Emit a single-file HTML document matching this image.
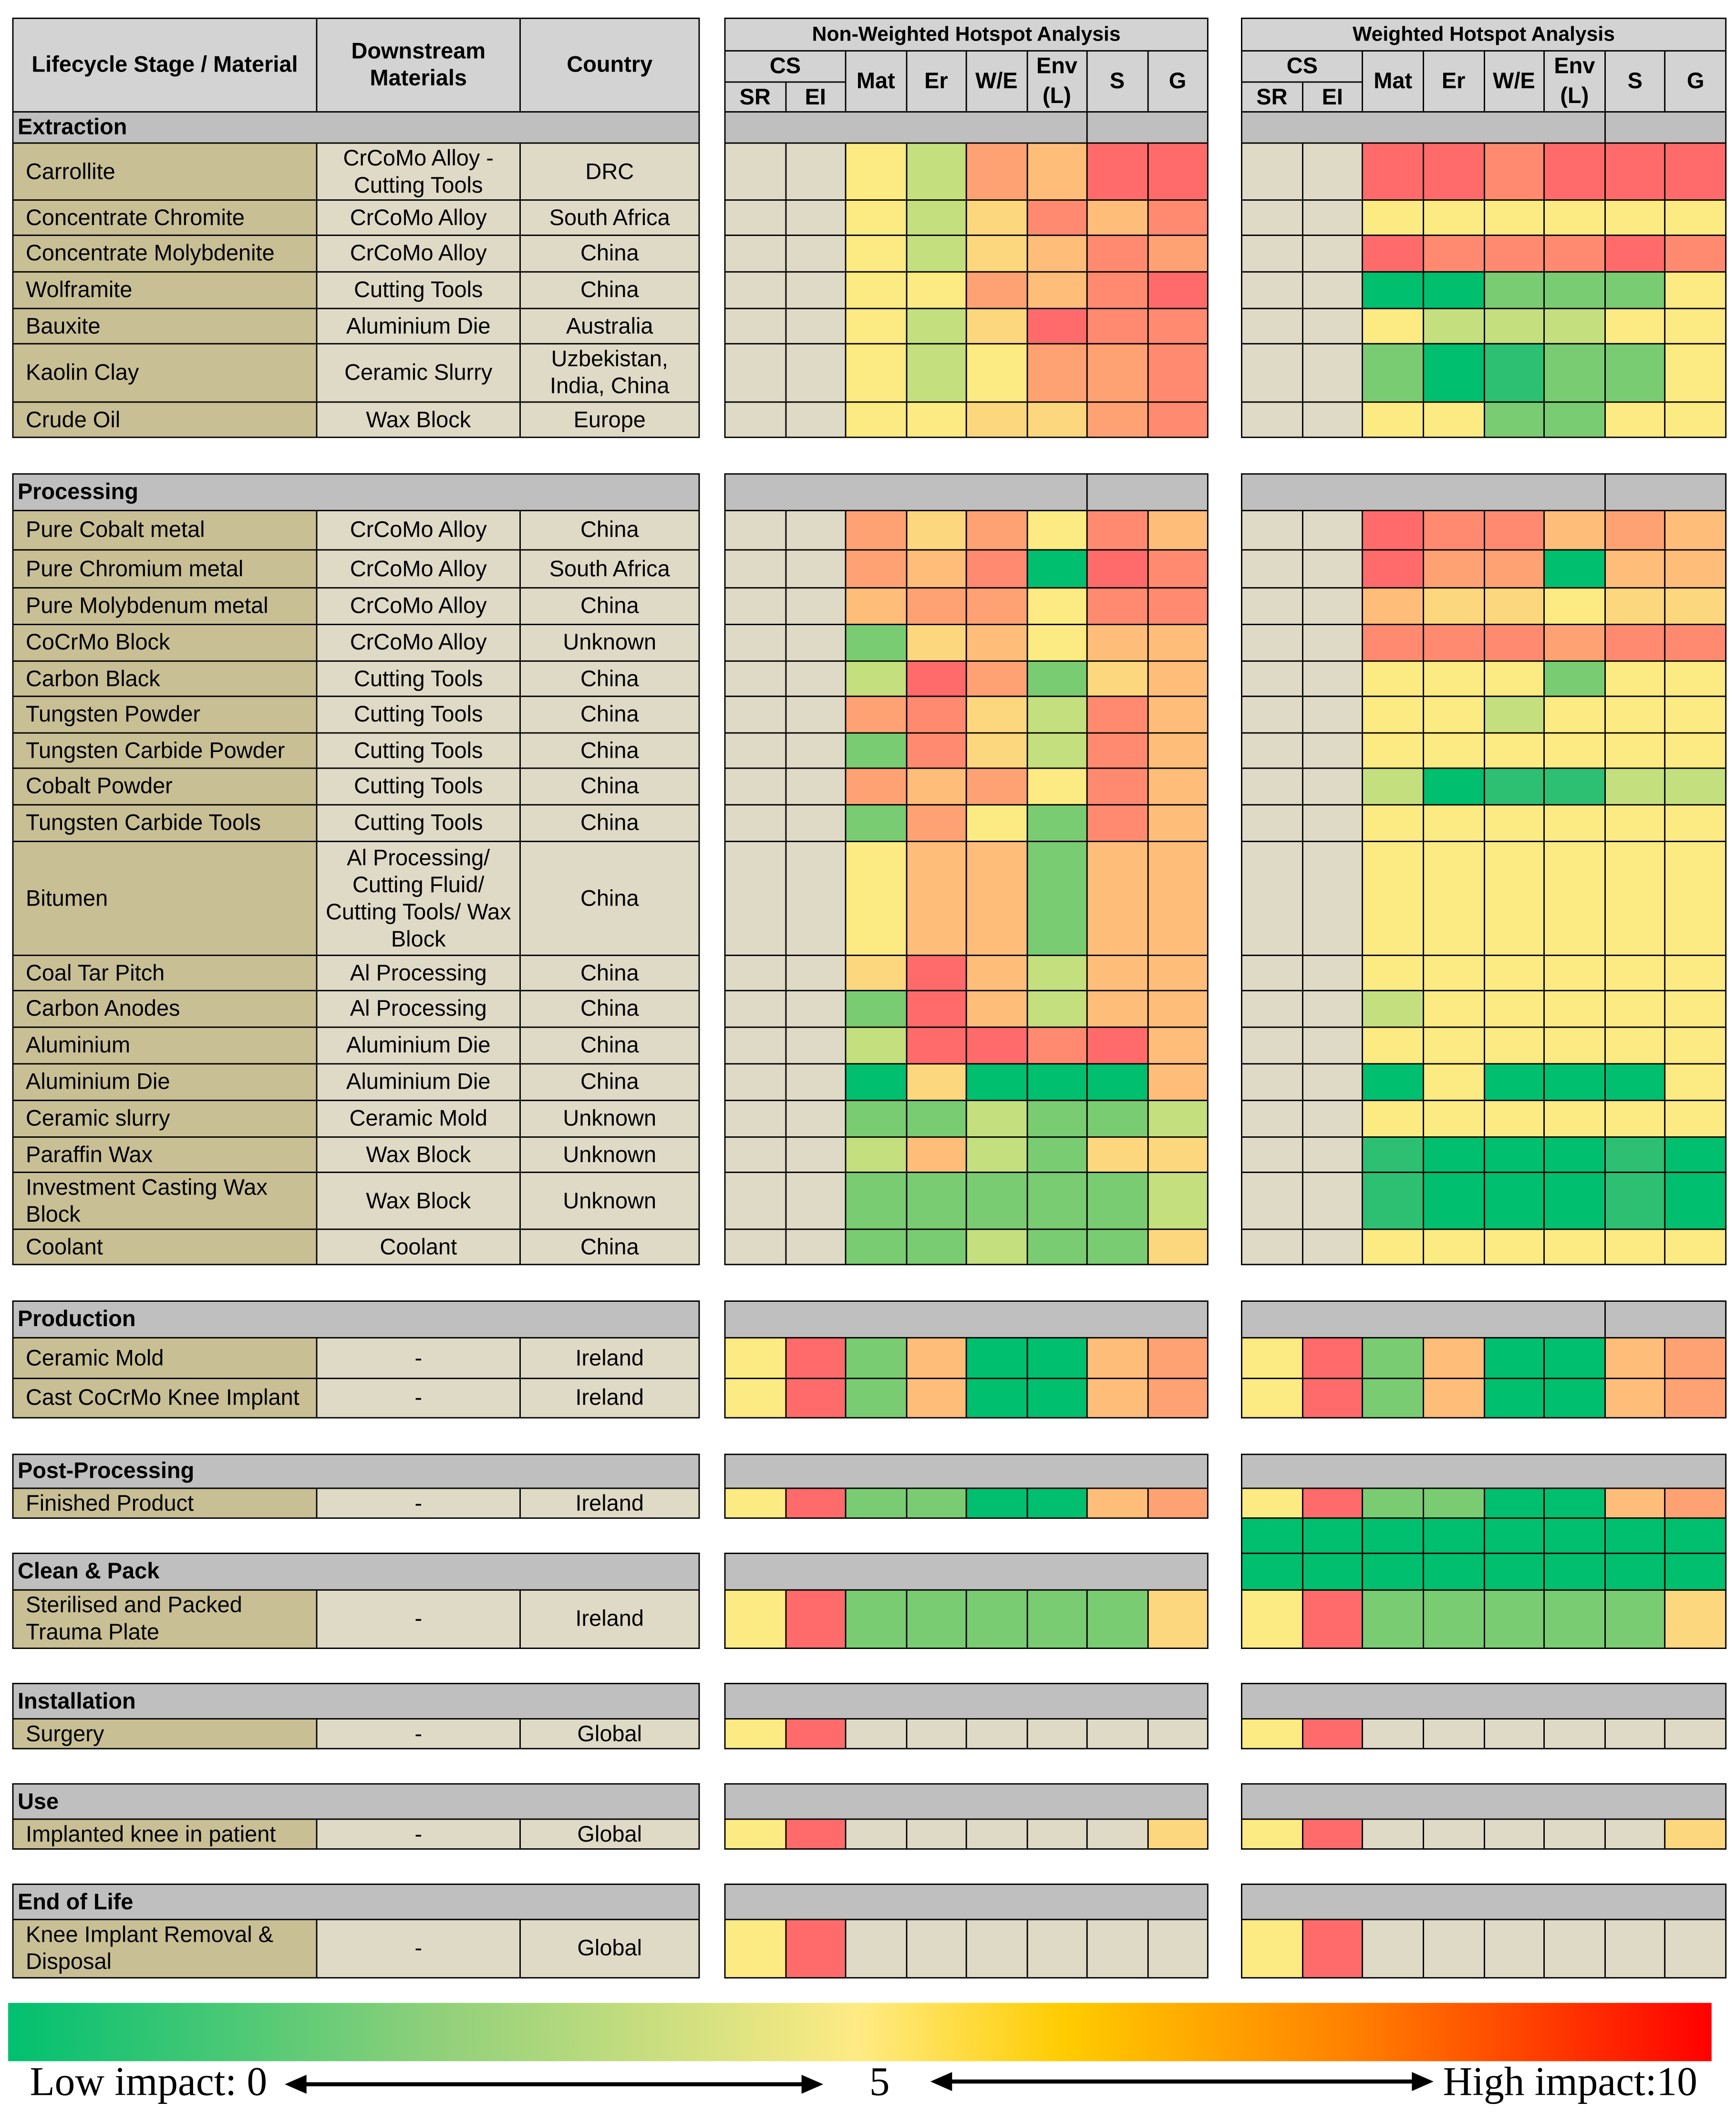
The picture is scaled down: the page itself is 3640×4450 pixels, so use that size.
<!DOCTYPE html>
<html><head><meta charset="utf-8">
<style>
html,body{margin:0;padding:0;background:#fff;}
#root{position:relative;width:1280px;height:1565px;transform:scale(2.84375);transform-origin:0 0;font-family:"Liberation Sans",Arial,sans-serif;}
.c{position:absolute;box-sizing:border-box;border:1px solid #000;display:flex;align-items:center;justify-content:center;text-align:center;font-size:16.5px;line-height:20px;color:#000;overflow:hidden;}
.l{justify-content:flex-start;text-align:left;padding-left:9px;}
.h{font-weight:bold;}
.t{position:absolute;white-space:nowrap;}
</style></head><body>
<div id="root">
<div style="position:absolute;left:6px;top:1477px;width:1256px;height:43px;background:linear-gradient(to right,#00C070 0%,#8FD07A 25%,#FFEB84 50%,#FFCC00 62%,#FF8000 79%,#FF0000 100%);"></div>
<div class="t" style="left:22px;top:1519px;font-family:'Liberation Serif',serif;font-size:30px;">Low impact: 0</div>
<div class="t" style="left:641px;top:1519px;font-family:'Liberation Serif',serif;font-size:30px;">5</div>
<div class="t" style="left:1064px;top:1519px;font-family:'Liberation Serif',serif;font-size:30px;">High impact:10</div>
<svg style="position:absolute;left:0;top:1525px" width="1280" height="30">
<line x1="222" y1="12" x2="595" y2="12" stroke="#000" stroke-width="3"/>
<polygon points="210,12 226,5 226,19" fill="#000"/><polygon points="607,12 591,5 591,19" fill="#000"/>
<line x1="698" y1="10" x2="1045" y2="10" stroke="#000" stroke-width="3"/>
<polygon points="686,10 702,3 702,17" fill="#000"/><polygon points="1057,10 1041,3 1041,17" fill="#000"/>
</svg>
</div>
<script>
const PAL={B:'#DFDAC6',D:'#00BF6F',M:'#2DC072',L:'#7ACC72',l:'#C4DF7E',Y:'#FCEA82',y:'#FDD77E',o:'#FFBD7A',O:'#FFA273',r:'#FF8A6F',R:'#FF6B6B'};
const rowLabels=["Carrollite","Concentrate Chromite","Concentrate Molybdenite","Wolframite","Bauxite","Kaolin Clay","Crude Oil",
"Pure Cobalt metal","Pure Chromium metal","Pure Molybdenum metal","CoCrMo Block","Carbon Black","Tungsten Powder","Tungsten Carbide Powder","Cobalt Powder","Tungsten Carbide Tools","Bitumen","Coal Tar Pitch","Carbon Anodes","Aluminium","Aluminium Die","Ceramic slurry","Paraffin Wax","Investment Casting Wax Block","Coolant",
"Ceramic Mold","Cast CoCrMo Knee Implant","Finished Product","Sterilised and Packed<br>Trauma Plate","Surgery","Implanted knee in patient","Knee Implant Removal &amp; Disposal"];
const downstream=["CrCoMo Alloy -<br>Cutting Tools","CrCoMo Alloy","CrCoMo Alloy","Cutting Tools","Aluminium Die","Ceramic Slurry","Wax Block",
"CrCoMo Alloy","CrCoMo Alloy","CrCoMo Alloy","CrCoMo Alloy","Cutting Tools","Cutting Tools","Cutting Tools","Cutting Tools","Cutting Tools","Al Processing/<br>Cutting Fluid/<br>Cutting Tools/ Wax<br>Block","Al Processing","Al Processing","Aluminium Die","Aluminium Die","Ceramic Mold","Wax Block","Wax Block","Coolant",
"-","-","-","-","-","-","-"];
const countries=["DRC","South Africa","China","China","Australia","Uzbekistan,<br>India, China","Europe",
"China","South Africa","China","Unknown","China","China","China","China","China","China","China","China","China","China","Unknown","Unknown","Unknown","China",
"Ireland","Ireland","Ireland","Ireland","Global","Global","Global"];
const nonWeighted=["BBYlOoRR","BBYlyror","BBYlyorO","BBYYOorR","BBYlyRrr","BBYlYOOr","BBYYyyOr",
"BBOyOYro","BBOorDRr","BBoOOYrr","BBLyoYoo","BBlROLyo","BBOrylro","BBLrylro","BBOoOYro","BBLOYLro","BBYooLoo","BByRoloo","BBLRoloo","BBlRRrRo","BBDyDDDo","BBLLlLLl","BBlolLyy","BBLLLLLl","BBLLlLLy",
"YRLoDDoO","YRLoDDoO","YRLLDDoO","YRLLLLLy","YRBBBBBB","YRBBBBBy","YRBBBBBB"];
const weighted=["BBRRrRRR","BBYYYYYY","BBRrrrRr","BBDDLLLY","BBYlllYY","BBLDMLLY","BBYYLLYY",
"BBRrroOo","BBROODoo","BBoyyYyy","BBrrrOrr","BBYYYLYY","BBYYlYYY","BBYYYYYY","BBlDMMll","BBYYYYYY","BBYYYYYY","BBYYYYYY","BBlYYYYY","BBYYYYYY","BBDYDDDY","BBYYYYYY","BBMDDDMD","BBMDDDMD","BBYYYYYY",
"YRLoDDoO","YRLoDDoO","YRLLDDoO","YRLLLLLy","YRBBBBBB","YRBBBBBy","YRBBBBBB"];
const rowTops=[105,147,173,200,227,253,296,376,405,433,460,487,513,540,566,593,620,704,730,757,784,811,838,864,906,986,1016,1097,1172,1267,1341,1415];
const rowBots=[147,173,200,227,253,296,322,405,433,460,487,513,540,566,593,620,704,730,757,784,811,838,864,906,932,1016,1045,1119,1215,1289,1363,1458];
const sections=[["Extraction",82,105,1,1],["Processing",349,376,1,1],["Production",959,986,0,1],["Post-Processing",1072,1097,0,0],["Clean &amp; Pack",1145,1172,0,-1],["Installation",1241,1267,0,0],["Use",1315,1341,0,0],["End of Life",1389,1415,0,0]];
const colNames=["SR","EI","Mat","Er","W/E","Env (L)","S","G"];
const root=document.getElementById('root');
function cell(x,y,w,h,bg,txt,cls,name){
 const d=document.createElement('div');
 d.className='c '+(cls||'');
 d.style.left=x+'px';d.style.top=y+'px';d.style.width=(w+1)+'px';d.style.height=(h+1)+'px';d.style.background=bg;
 if(txt)d.innerHTML=txt;
 
 
 root.appendChild(d);return d;
}
const slug=s=>s.toLowerCase().replace(/<br>/g,' ').replace(/&amp;/g,'and').replace(/[^a-z0-9]+/g,'-').replace(/^-|-$/g,'');
const L0=9,L1=233,L2=383,L3=515;
const tx=[534,915], tw=[356,357];
const colX=(t,i)=>tx[t]+tw[t]*i/8;
cell(L0,13,L1-L0,69,'#D3D3D3','Lifecycle Stage / Material','h','header-lifecycle-stage');
cell(L1,13,L2-L1,69,'#D3D3D3','Downstream<br>Materials','h','header-downstream-materials');
cell(L2,13,L3-L2,69,'#D3D3D3','Country','h','header-country');
["Non-Weighted Hotspot Analysis","Weighted Hotspot Analysis"].forEach((t,ti)=>{
 const p=ti?'weighted':'non-weighted';
 const e=cell(tx[ti],13,tw[ti],24,'#D3D3D3',t,'h',p+'-title');e.style.fontSize='15px';
 cell(colX(ti,0),37,colX(ti,2)-colX(ti,0),23,'#D3D3D3','CS','h',p+'-header-cs');
 for(let i=0;i<8;i++){
  const y=i<2?60:37;
  const e2=cell(colX(ti,i),y,colX(ti,i+1)-colX(ti,i),82-y,'#D3D3D3',colNames[i],'h',p+'-header-'+slug(colNames[i]));
  if(i==5){e2.style.lineHeight='22px';e2.innerHTML='Env<br>(L)';}
 }
});
sections.forEach(s=>{
 const [nm,y0,y1,nwDiv,wDiv]=s;
 cell(L0,y0,L3-L0,y1-y0,'#BFBFBF',nm,'h l','section-'+slug(nm)).style.paddingLeft='3px';
 [nwDiv,wDiv].forEach((dv,ti)=>{
  if(dv<0)return;
  const p=ti?'weighted':'non-weighted';
  if(dv){cell(tx[ti],y0,colX(ti,6)-tx[ti],y1-y0,'#BFBFBF','', '',p+'-section-'+slug(nm));
        cell(colX(ti,6),y0,colX(ti,8)-colX(ti,6),y1-y0,'#BFBFBF','','',p+'-section-'+slug(nm)+'-sg');}
  else cell(tx[ti],y0,tw[ti],y1-y0,'#BFBFBF','','',p+'-section-'+slug(nm));
 });
});
rowLabels.forEach((lab,r)=>{
 const y=rowTops[r],h=rowBots[r]-rowTops[r];
 cell(L0,y,L1-L0,h,'#C9BF95',lab,'l','row-label-'+slug(lab));
 cell(L1,y,L2-L1,h,'#DFDAC6',downstream[r],'','downstream-'+slug(lab));
 cell(L2,y,L3-L2,h,'#DFDAC6',countries[r],'','country-'+slug(lab));
 [nonWeighted,weighted].forEach((arr,ti)=>{
  const p=ti?'weighted':'non-weighted';
  for(let i=0;i<8;i++) cell(colX(ti,i),y,colX(ti,i+1)-colX(ti,i),h,PAL[arr[r][i]],'','',p+'-cell-'+slug(lab)+'-'+slug(colNames[i]));
 });
});
[[1119,1145],[1145,1172]].forEach((yy,k)=>{
 for(let i=0;i<8;i++) cell(colX(1,i),yy[0],colX(1,i+1)-colX(1,i),yy[1]-yy[0],PAL.D,'','','weighted-extra-cell-'+k+'-'+i);
});
</script>
</body></html>
